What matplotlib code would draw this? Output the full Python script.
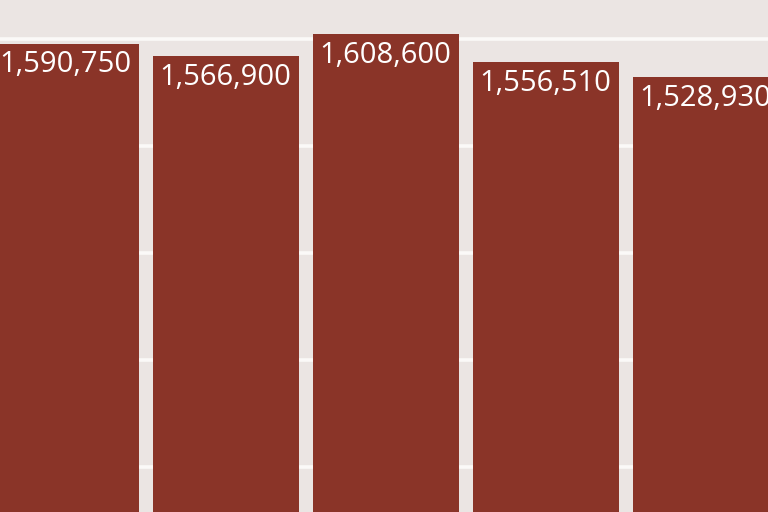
import matplotlib
matplotlib.use("Agg")
import matplotlib.pyplot as plt

# values (categories are cropped out of the picture)
values = [1590750, 1566900, 1608600, 1556510, 1528930]
labels = ["1,590,750", "1,566,900", "1,608,600", "1,556,510", "1,528,930"]
gridvals = [800000, 1000000, 1200000, 1400000, 1600000]

bg = "#ebe5e3"
bar_color = "#8a3428"

plt.rcParams['font.family'] = ['Open Sans', 'DejaVu Sans']

fig = plt.figure(figsize=(7.68, 5.12), dpi=100)
fig.patch.set_facecolor(bg)
ax = fig.add_axes([0, 0, 1, 1])
ax.set_facecolor(bg)

x = list(range(len(values)))
ax.bar(x, values, width=0.9125, color=bar_color, zorder=2)

for g in gridvals:
    ax.axhline(g, color="#fbf9f8", lw=2.6, zorder=1)

for xi, v, lab in zip(x, values, labels):
    ax.annotate(lab, (xi, v), xytext=(0, -5), textcoords="offset points",
                ha="center", va="top", color="white", fontsize=21, zorder=3)

ax.set_xlim(-0.41, 4.39)
ax.set_ylim(715700, 1672000)
for s in ax.spines.values():
    s.set_visible(False)
ax.set_xticks([])
ax.set_yticks([])

fig.savefig("out.png", dpi=100, facecolor=bg)
